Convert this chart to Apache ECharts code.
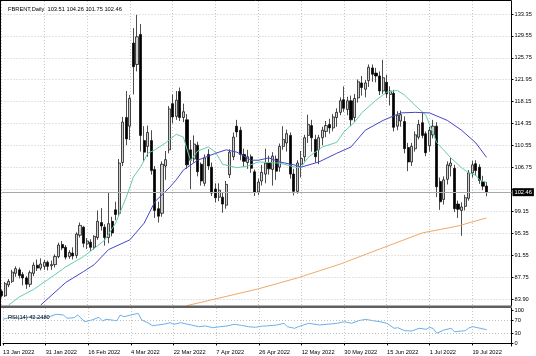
<!DOCTYPE html>
<html><head><meta charset="utf-8">
<script src="https://cdn.jsdelivr.net/npm/echarts@6/dist/echarts.min.js"></script>
<style>html,body{margin:0;padding:0;background:#fff}#c{width:536px;height:356px}</style>
</head><body><div id="c"></div>
<script>
const symbolName = 'FBRENT,Daily';
const dates = ['13 Jan 2022','14 Jan 2022','17 Jan 2022','18 Jan 2022','19 Jan 2022','20 Jan 2022','21 Jan 2022','24 Jan 2022','25 Jan 2022','26 Jan 2022','27 Jan 2022','28 Jan 2022','31 Jan 2022',
'1 Feb 2022','2 Feb 2022','3 Feb 2022','4 Feb 2022','7 Feb 2022','8 Feb 2022','9 Feb 2022','10 Feb 2022','11 Feb 2022','14 Feb 2022','15 Feb 2022','16 Feb 2022','17 Feb 2022','18 Feb 2022','21 Feb 2022','22 Feb 2022','23 Feb 2022','24 Feb 2022','25 Feb 2022','28 Feb 2022',
'1 Mar 2022','2 Mar 2022','3 Mar 2022','4 Mar 2022','7 Mar 2022','8 Mar 2022','9 Mar 2022','10 Mar 2022','11 Mar 2022','14 Mar 2022','15 Mar 2022','16 Mar 2022','17 Mar 2022','18 Mar 2022','21 Mar 2022','22 Mar 2022','23 Mar 2022','24 Mar 2022','25 Mar 2022','28 Mar 2022','29 Mar 2022','30 Mar 2022','31 Mar 2022',
'1 Apr 2022','4 Apr 2022','5 Apr 2022','6 Apr 2022','7 Apr 2022','8 Apr 2022','11 Apr 2022','12 Apr 2022','13 Apr 2022','14 Apr 2022','18 Apr 2022','19 Apr 2022','20 Apr 2022','21 Apr 2022','22 Apr 2022','25 Apr 2022','26 Apr 2022','27 Apr 2022','28 Apr 2022','29 Apr 2022',
'2 May 2022','3 May 2022','4 May 2022','5 May 2022','6 May 2022','9 May 2022','10 May 2022','11 May 2022','12 May 2022','13 May 2022','16 May 2022','17 May 2022','18 May 2022','19 May 2022','20 May 2022','23 May 2022','24 May 2022','25 May 2022','26 May 2022','27 May 2022','30 May 2022','31 May 2022',
'1 Jun 2022','2 Jun 2022','3 Jun 2022','6 Jun 2022','7 Jun 2022','8 Jun 2022','9 Jun 2022','10 Jun 2022','13 Jun 2022','14 Jun 2022','15 Jun 2022','16 Jun 2022','17 Jun 2022','20 Jun 2022','21 Jun 2022','22 Jun 2022','23 Jun 2022','24 Jun 2022','27 Jun 2022','28 Jun 2022','29 Jun 2022','30 Jun 2022',
'1 Jul 2022','4 Jul 2022','5 Jul 2022','6 Jul 2022','7 Jul 2022','8 Jul 2022','11 Jul 2022','12 Jul 2022','13 Jul 2022','14 Jul 2022','15 Jul 2022','18 Jul 2022','19 Jul 2022','20 Jul 2022','21 Jul 2022','22 Jul 2022','25 Jul 2022'];
const rightShiftSlots = ['','','','','','',''];

const opens = [85.3,84.5,86.4,87.0,88.4,89.0,88.2,87.6,86.5,88.4,89.8,89.3,89.6,90.3,89.7,89.9,91.3,93.4,92.9,91.3,91.9,91.5,95.0,96.4,93.5,93.8,92.9,94.6,97.2,96.4,94.6,97.4,99.4,98.8,107.6,115.4,113.9,128.3,124.6,129.8,111.4,110.4,111.4,106.4,99.6,98.8,107.0,109.8,117.8,115.6,119.9,115.4,115.0,109.8,108.2,110.6,107.3,104.0,109.0,106.8,103.0,101.6,101.6,100.2,105.5,108.6,113.9,113.2,109.0,107.6,108.6,106.0,102.5,104.4,105.6,107.6,106.4,108.2,106.8,110.4,111.0,112.3,105.6,102.6,107.3,108.6,112.3,114.0,111.6,109.8,111.9,113.0,114.2,113.6,115.4,116.3,118.5,116.8,118.3,115.4,118.8,121.4,120.3,121.8,124.0,123.1,122.6,120.0,121.5,119.4,119.6,113.9,114.8,114.7,110.2,107.7,110.0,112.0,114.5,112.6,110.5,112.4,113.9,104.3,101.2,104.7,107.0,106.6,100.4,99.3,100.0,101.4,105.8,107.4,106.8,104.3,103.51];
const highs = [85.6,86.9,87.4,89.0,89.6,89.4,88.6,87.9,88.9,90.3,90.8,91.0,90.7,90.6,90.6,91.7,93.7,94.0,93.3,92.4,92.9,95.5,97.2,96.6,94.5,94.3,95.0,99.3,99.7,96.9,102.4,98.2,100.8,108.2,115.5,120.0,119.3,130.9,133.2,131.6,113.9,114.0,113.2,107.0,100.8,107.8,109.6,117.4,119.4,120.0,120.6,117.8,116.0,111.5,112.3,111.2,107.6,109.0,109.9,107.6,104.0,104.0,102.4,104.4,109.9,112.8,115.0,113.8,110.0,109.8,109.0,106.4,104.8,107.2,110.0,108.8,109.4,108.8,110.9,113.9,113.3,112.8,106.5,108.0,109.6,112.4,115.9,115.0,112.4,112.4,113.8,114.8,115.2,116.0,117.0,118.9,120.8,119.0,119.2,119.5,122.0,122.6,121.9,124.6,124.6,124.0,123.4,125.4,122.8,120.8,120.2,116.5,116.6,115.6,111.0,111.0,113.0,115.0,116.2,113.0,113.8,115.0,114.6,105.0,105.2,107.8,108.4,107.2,101.0,100.7,102.0,106.3,107.9,108.0,107.3,105.3,104.26];
const lows = [84.2,84.3,86.0,86.7,87.8,87.5,86.3,85.7,86.0,87.9,88.8,88.9,89.0,88.9,89.0,89.4,91.0,92.4,90.8,90.9,90.8,91.0,94.6,92.9,92.6,92.3,92.5,94.2,95.8,93.2,93.6,94.8,97.6,98.3,107.0,110.6,111.5,119.4,123.4,109.5,107.9,108.6,105.5,98.0,97.2,98.2,104.6,109.2,114.4,115.0,114.8,114.6,106.5,103.0,107.6,105.2,103.6,103.5,106.3,101.8,100.7,100.9,98.9,99.6,104.9,108.0,112.0,108.0,106.8,106.5,105.8,101.8,102.0,103.6,104.0,105.5,103.6,104.6,106.0,109.8,109.5,104.8,101.9,102.2,105.0,107.8,111.0,109.5,107.6,107.3,110.6,112.0,112.6,113.0,113.8,115.8,116.4,115.8,113.9,114.6,118.0,119.2,118.9,120.7,121.6,121.5,119.3,119.5,118.8,117.5,113.0,113.2,113.8,109.2,106.1,107.0,109.5,111.6,111.8,108.7,109.5,111.8,101.6,99.4,100.3,103.8,105.2,99.0,98.0,94.9,99.3,101.0,105.0,105.3,103.9,102.8,101.75];
const closes = [84.5,86.6,87.0,88.6,89.2,88.0,87.6,86.5,88.5,89.8,89.3,90.0,90.3,89.6,89.9,91.3,93.3,92.8,91.2,92.0,91.4,95.2,96.7,93.6,94.0,92.9,94.8,97.4,96.6,94.6,97.0,95.4,98.6,107.5,114.6,111.7,118.7,124.2,129.4,112.3,109.4,112.8,106.2,99.3,98.3,107.3,108.1,116.9,115.5,118.4,115.4,116.4,107.2,108.0,110.8,106.0,104.4,108.4,107.0,102.3,101.5,102.8,100.4,103.8,109.4,112.0,112.9,109.0,107.8,108.6,106.6,102.5,104.2,105.9,107.5,106.5,108.7,106.1,110.4,111.6,112.6,105.6,102.6,107.5,108.3,111.9,114.2,111.9,108.6,111.9,113.2,114.0,113.6,115.5,116.3,118.3,117.0,118.3,115.0,118.7,121.6,120.6,121.4,124.1,122.9,122.6,120.0,122.3,119.5,120.0,113.7,115.8,115.9,110.0,107.7,110.4,112.4,114.2,112.3,109.3,113.2,113.9,103.4,100.8,104.6,107.2,107.5,99.6,99.5,99.9,101.5,105.8,107.2,106.2,104.5,103.5,102.46];

// moving averages: [bar index, price]
const maFast = [[2,82.9],[5,84.3],[9,85.6],[13,87.3],[18,89.5],[23,91.3],[26,92.7],[29,94.2],[32,97.1],[35,101.6],[37,105.1],[39,106.8],[41,109.2],[43,109.8],[46,111.0],[49,112.5],[51,112.0],[53,107.9],[55,109.6],[58,110.3],[60,109.4],[62,107.3],[66,106.7],[69,107.0],[72,107.7],[78,107.5],[83,106.7],[84,106.8],[86,108.5],[90,110.3],[94,111.1],[96,112.9],[99,114.6],[101,116.2],[105,118.4],[108,119.8],[111,120.1],[113,119.3],[116,117.5],[119,115.8],[122,111.1],[126,108.4],[129,106.7],[131,105.8],[133,105.4],[134,104.6],[136,104.1]];
const maSlow = [[11,82.9],[18,86.8],[23,88.7],[26,89.9],[30,92.5],[36,94.2],[40,97.1],[43,100.8],[47,103.2],[49,104.6],[51,106.3],[55,108.0],[60,109.2],[63,109.8],[66,109.4],[70,108.0],[72,108.0],[75,108.4],[78,107.7],[82,107.2],[84,106.8],[89,107.7],[94,109.2],[98,110.3],[102,113.2],[107,114.9],[112,116.2],[116,116.3],[120,116.2],[125,114.9],[129,113.2],[133,111.0],[136,108.5]];
const maLong = [[52,82.8],[61,84.1],[72,85.7],[83,87.6],[95,90.0],[106,92.6],[118,95.4],[128,96.6],[136,98.0]];
const rsi = [[0,73.5],[2,79.6],[5,76.6],[8,81.4],[11,76.6],[13,81.4],[15,88.8],[17,86.6],[18,76.6],[20,78.4],[21,86.6],[23,66.2],[25,71.4],[27,79.6],[28,68.3],[29,73.5],[32,69.2],[33,86.6],[34,81.4],[36,86.6],[38,91.8],[39,71.4],[41,61.3],[42,54],[45,58.2],[47,63.1],[48,58.2],[50,63.1],[52,58.2],[53,56.1],[55,50.9],[57,53],[59,47.9],[61,50.9],[63,53],[65,58.2],[67,55.2],[69,50.9],[71,49.1],[73,53],[74,53],[77,56.1],[79,61.3],[80,50.9],[82,46],[83,50.9],[86,61.3],[89,56.1],[92,59.2],[94,61.3],[96,66.2],[98,61.3],[100,69.2],[102,73.5],[104,69.2],[106,66.2],[108,61.3],[110,46],[111,47.9],[113,38.7],[115,37.8],[117,46],[119,43],[120,49.1],[121,45],[122,31],[124,40.8],[126,46],[127,35.6],[129,37.8],[130,38.7],[131,47],[132,50.9],[133,49.1],[135,43.9],[136,42.25]];
const rsiLast = 42.248;

const priceGridValues = [83.95,87.75,91.55,95.35,99.15,102.95,106.75,110.55,114.35,118.15,121.95,125.75,129.55,133.35];
const priceLabelValues = [83.95,87.75,91.55,95.35,99.15,106.75,110.55,114.35,118.15,121.95,125.75,129.55,133.35];
const priceLabelTexts = ['83.90','87.75','91.55','95.35','99.15','106.75','110.55','114.35','118.15','121.95','125.75','129.55','133.35'];
const rsiLevels = [0,30,70,100];

const categories = dates.concat(rightShiftSlots);
const last = closes.length - 1;
const candleData = opens.map((o, i) => [o, closes[i], lows[i], highs[i]]);
const header = symbolName + '  ' + [opens[last], highs[last], lows[last], closes[last]].map(v => v.toFixed(2)).join(' ');

const FONT = 'Liberation Sans';
const FS = 5.7;
const gridLine = {show: true, interval: 11, lineStyle: {color: '#c8c8c8', width: 1, type: [1, 2]}};

const chart = echarts.init(document.getElementById('c'), null, {renderer: 'canvas'});
chart.setOption({
  animation: false,
  backgroundColor: '#ffffff',
  textStyle: {fontFamily: FONT},
  title: [
    {text: header, left: 3, top: 1, textStyle: {fontSize: FS, fontWeight: 'normal', color: '#000', fontFamily: FONT}},
    {text: 'RSI(14) ' + rsiLast.toFixed(4), left: 3, top: 309, textStyle: {fontSize: FS, fontWeight: 'normal', color: '#000', fontFamily: FONT}}
  ],
  grid: [
    {left: 1.5, top: 1, width: 510, height: 305},
    {left: 1.5, top: 308, width: 510, height: 38}
  ],
  xAxis: [
    {type: 'category', gridIndex: 0, data: categories, boundaryGap: false,
     axisLine: {show: false}, axisTick: {show: false}, axisLabel: {show: false, interval: 11}, splitLine: gridLine},
    {type: 'category', gridIndex: 1, data: categories, boundaryGap: false,
     axisLine: {show: true, lineStyle: {color: '#000', width: 1}},
     axisTick: {show: true, interval: 11, length: 2, lineStyle: {color: '#000'}},
     axisLabel: {interval: 11, align: 'left', fontSize: FS, color: '#000', margin: 3, fontFamily: FONT},
     splitLine: gridLine}
  ],
  yAxis: [
    {type: 'value', gridIndex: 0, position: 'right', min: 82.73, max: 135.6, scale: true,
     axisLine: {show: true, lineStyle: {color: '#000', width: 1}},
     axisTick: {show: true, length: 2, customValues: priceGridValues, lineStyle: {color: '#000'}},
     axisLabel: {customValues: priceLabelValues, fontSize: FS, color: '#000', margin: 3, fontFamily: FONT,
       formatter: v => { const k = priceLabelValues.findIndex(p => Math.abs(p - v) < 0.001); return k >= 0 ? priceLabelTexts[k] : ''; }},
     splitLine: {show: true, lineStyle: {color: '#c8c8c8', width: 1, type: [1, 2]}}},
    {type: 'value', gridIndex: 1, position: 'right', min: -8, max: 108,
     axisLine: {show: true, lineStyle: {color: '#000', width: 1}},
     axisTick: {show: true, length: 2, customValues: rsiLevels, lineStyle: {color: '#000'}},
     axisLabel: {customValues: rsiLevels, fontSize: FS, color: '#000', margin: 3, fontFamily: FONT},
     splitLine: {show: false}}
  ],
  graphic: [
    {type: 'rect', silent: true, z: 100, shape: {x: 0, y: 305.5, width: 511.5, height: 2.5}, style: {fill: '#606060'}},
    {type: 'line', silent: true, z: 100, shape: {x1: 0.5, y1: 0, x2: 0.5, y2: 346}, style: {stroke: '#000', lineWidth: 1}},
    {type: 'line', silent: true, z: 100, shape: {x1: 0, y1: 0.5, x2: 511.5, y2: 0.5}, style: {stroke: '#000', lineWidth: 1}}
  ],
  series: [
    {type: 'candlestick', xAxisIndex: 0, yAxisIndex: 0, data: candleData, barWidth: 2.6,
     itemStyle: {color: '#d0d0d0', color0: '#000000', borderColor: '#000000', borderColor0: '#000000', borderWidth: 0.7},
     markLine: {silent: true, symbol: ['none', 'none'], animation: false,
       lineStyle: {color: '#a8a8a8', width: 1, type: 'solid'},
       label: {show: true, position: 'end', distance: 1, formatter: closes[last].toFixed(2), color: '#fff', backgroundColor: '#000', fontSize: FS, fontFamily: FONT, padding: [1, 2, 1, 2]},
       data: [{yAxis: closes[last]}]}},
    {type: 'line', xAxisIndex: 0, yAxisIndex: 0, data: maFast, showSymbol: false, symbol: 'none', smooth: false, lineStyle: {color: '#66cdaa', width: 1}, z: 3},
    {type: 'line', xAxisIndex: 0, yAxisIndex: 0, data: maSlow, showSymbol: false, symbol: 'none', smooth: false, lineStyle: {color: '#4646c8', width: 1}, z: 3},
    {type: 'line', xAxisIndex: 0, yAxisIndex: 0, data: maLong, showSymbol: false, symbol: 'none', smooth: false, lineStyle: {color: '#f0a868', width: 1}, z: 3},
    {type: 'line', xAxisIndex: 1, yAxisIndex: 1, data: rsi, showSymbol: false, symbol: 'none', smooth: false, lineStyle: {color: '#6ab0ee', width: 1},
     markLine: {silent: true, symbol: ['none', 'none'], animation: false, label: {show: false},
       lineStyle: {color: '#c0c0c0', width: 1, type: [1, 2]}, data: [{yAxis: 30}, {yAxis: 70}]}}
  ]
});
</script></body></html>
